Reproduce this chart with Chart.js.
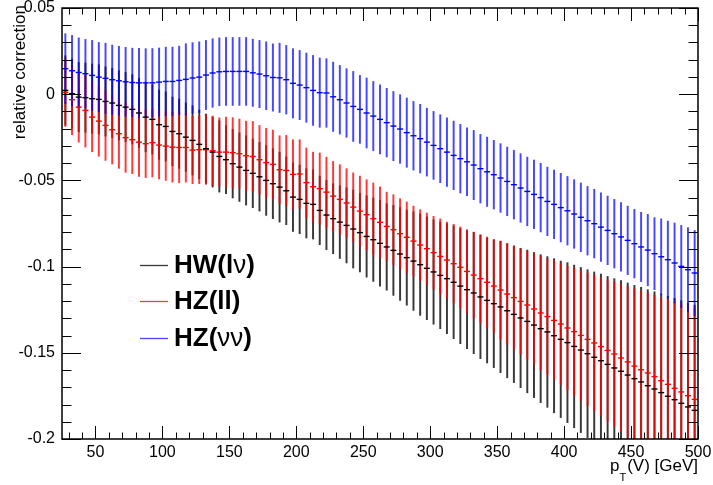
<!DOCTYPE html>
<html>
<head>
<meta charset="utf-8">
<script src="https://cdn.jsdelivr.net/npm/chart.js@4.4.1/dist/chart.umd.min.js"></script>
<style>body{margin:0;background:#fff}</style>
</head>
<body>
<canvas id="c" width="713" height="485"></canvas>
<script>
// pT(V) bin centres [GeV]
var ptBins = [27.5, 32.5, 37.5, 42.5, 47.5, 52.5, 57.5, 62.5, 67.5, 72.5, 77.5, 82.5, 87.5, 92.5, 97.5, 102.5,
  107.5, 112.5, 117.5, 122.5, 127.5, 132.5, 137.5, 142.5, 147.5, 152.5, 157.5, 162.5, 167.5, 172.5, 177.5, 182.5,
  187.5, 192.5, 197.5, 202.5, 207.5, 212.5, 217.5, 222.5, 227.5, 232.5, 237.5, 242.5, 247.5, 252.5, 257.5, 262.5,
  267.5, 272.5, 277.5, 282.5, 287.5, 292.5, 297.5, 302.5, 307.5, 312.5, 317.5, 322.5, 327.5, 332.5, 337.5, 342.5,
  347.5, 352.5, 357.5, 362.5, 367.5, 372.5, 377.5, 382.5, 387.5, 392.5, 397.5, 402.5, 407.5, 412.5, 417.5, 422.5,
  427.5, 432.5, 437.5, 442.5, 447.5, 452.5, 457.5, 462.5, 467.5, 472.5, 477.5, 482.5, 487.5, 492.5, 497.5];

// HW(lnu)
var hwVal = [0.0022, 0.0003, -0.0017, -0.0020, -0.0026, -0.0030, -0.0042, -0.0051, -0.0065, -0.0075, -0.0088, -0.0109, -0.0133, -0.0146, -0.0177, -0.0187,
  -0.0216, -0.0229, -0.0249, -0.0268, -0.0291, -0.0316, -0.0336, -0.0361, -0.0380, -0.0403, -0.0423, -0.0442, -0.0459, -0.0479, -0.0500, -0.0519,
  -0.0539, -0.0560, -0.0597, -0.0610, -0.0633, -0.0639, -0.0674, -0.0701, -0.0722, -0.0742, -0.0761, -0.0782, -0.0803, -0.0825, -0.0844, -0.0865,
  -0.0886, -0.0906, -0.0927, -0.0948, -0.0968, -0.0989, -0.1010, -0.1031, -0.1051, -0.1070, -0.1091, -0.1113, -0.1134, -0.1153, -0.1176, -0.1196,
  -0.1215, -0.1234, -0.1256, -0.1277, -0.1298, -0.1318, -0.1339, -0.1360, -0.1379, -0.1401, -0.1422, -0.1441, -0.1463, -0.1484, -0.1505, -0.1526,
  -0.1546, -0.1567, -0.1588, -0.1607, -0.1629, -0.1650, -0.1669, -0.1691, -0.1710, -0.1731, -0.1752, -0.1772, -0.1793, -0.1814, -0.1834];
var hwErr = [0.0201, 0.0201, 0.0201, 0.0201, 0.0201, 0.0201, 0.0201, 0.0201, 0.0201, 0.0201, 0.0201, 0.0201, 0.0201, 0.0201, 0.0201, 0.0201,
  0.0199, 0.0201, 0.0199, 0.0201, 0.0199, 0.0201, 0.0203, 0.0207, 0.0197, 0.0199, 0.0199, 0.0201, 0.0199, 0.0199, 0.0203, 0.0203,
  0.0203, 0.0197, 0.0199, 0.0199, 0.0201, 0.0201, 0.0199, 0.0201, 0.0203, 0.0211, 0.0218, 0.0226, 0.0228, 0.0236, 0.0242, 0.0249,
  0.0251, 0.0261, 0.0269, 0.0276, 0.0286, 0.0294, 0.0298, 0.0303, 0.0309, 0.0319, 0.0327, 0.0334, 0.0342, 0.0352, 0.0358, 0.0363,
  0.0371, 0.0381, 0.0389, 0.0396, 0.0404, 0.0414, 0.0421, 0.0429, 0.0437, 0.0447, 0.0454, 0.0464, 0.0472, 0.0479, 0.0487, 0.0495,
  0.0503, 0.0510, 0.0518, 0.0526, 0.0534, 0.0541, 0.0549, 0.0557, 0.0564, 0.0572, 0.0580, 0.0588, 0.0595, 0.0603, 0.0611];

// HZ(ll)
var hzllVal = [0.0010, -0.0032, -0.0075, -0.0094, -0.0133, -0.0156, -0.0181, -0.0206, -0.0229, -0.0252, -0.0264, -0.0278, -0.0287, -0.0281, -0.0295, -0.0301,
  -0.0307, -0.0309, -0.0309, -0.0324, -0.0322, -0.0322, -0.0328, -0.0336, -0.0336, -0.0339, -0.0345, -0.0357, -0.0361, -0.0380, -0.0397, -0.0407,
  -0.0438, -0.0442, -0.0465, -0.0463, -0.0513, -0.0537, -0.0548, -0.0568, -0.0591, -0.0610, -0.0631, -0.0655, -0.0678, -0.0699, -0.0722, -0.0743,
  -0.0767, -0.0786, -0.0809, -0.0830, -0.0852, -0.0875, -0.0896, -0.0919, -0.0941, -0.0962, -0.0983, -0.1004, -0.1028, -0.1049, -0.1070, -0.1091,
  -0.1113, -0.1136, -0.1159, -0.1180, -0.1202, -0.1223, -0.1246, -0.1269, -0.1290, -0.1312, -0.1333, -0.1356, -0.1377, -0.1399, -0.1422, -0.1443,
  -0.1464, -0.1486, -0.1507, -0.1530, -0.1553, -0.1577, -0.1598, -0.1617, -0.1638, -0.1662, -0.1683, -0.1706, -0.1727, -0.1749, -0.1770];
var hzllErr = [0.0197, 0.0203, 0.0203, 0.0213, 0.0201, 0.0203, 0.0203, 0.0199, 0.0201, 0.0201, 0.0197, 0.0199, 0.0197, 0.0199, 0.0197, 0.0199,
  0.0203, 0.0205, 0.0201, 0.0195, 0.0197, 0.0201, 0.0201, 0.0199, 0.0203, 0.0203, 0.0201, 0.0201, 0.0203, 0.0199, 0.0199, 0.0199,
  0.0197, 0.0203, 0.0201, 0.0199, 0.0201, 0.0201, 0.0207, 0.0203, 0.0201, 0.0201, 0.0199, 0.0199, 0.0203, 0.0203, 0.0207, 0.0205,
  0.0199, 0.0203, 0.0203, 0.0205, 0.0203, 0.0205, 0.0207, 0.0211, 0.0218, 0.0220, 0.0228, 0.0234, 0.0242, 0.0249, 0.0255, 0.0263,
  0.0269, 0.0284, 0.0292, 0.0300, 0.0305, 0.0313, 0.0321, 0.0329, 0.0336, 0.0344, 0.0350, 0.0360, 0.0369, 0.0377, 0.0385, 0.0392,
  0.0400, 0.0410, 0.0418, 0.0427, 0.0437, 0.0447, 0.0456, 0.0464, 0.0472, 0.0481, 0.0491, 0.0501, 0.0510, 0.0520, 0.0530];

// HZ(nunu)
var hzvvVal = [0.0148, 0.0136, 0.0126, 0.0119, 0.0109, 0.0099, 0.0092, 0.0084, 0.0078, 0.0072, 0.0068, 0.0066, 0.0066, 0.0066, 0.0070, 0.0074,
  0.0074, 0.0080, 0.0086, 0.0094, 0.0099, 0.0111, 0.0123, 0.0130, 0.0132, 0.0132, 0.0132, 0.0132, 0.0124, 0.0117, 0.0107, 0.0097,
  0.0095, 0.0084, 0.0063, 0.0053, 0.0038, 0.0022, 0.0009, 0.0007, -0.0015, -0.0032, -0.0051, -0.0071, -0.0088, -0.0109, -0.0127, -0.0146,
  -0.0165, -0.0185, -0.0202, -0.0223, -0.0241, -0.0258, -0.0278, -0.0297, -0.0316, -0.0336, -0.0355, -0.0374, -0.0392, -0.0411, -0.0432, -0.0450,
  -0.0467, -0.0486, -0.0506, -0.0525, -0.0544, -0.0564, -0.0581, -0.0600, -0.0622, -0.0639, -0.0658, -0.0676, -0.0695, -0.0714, -0.0734, -0.0751,
  -0.0771, -0.0790, -0.0809, -0.0828, -0.0848, -0.0867, -0.0886, -0.0904, -0.0925, -0.0943, -0.0960, -0.0979, -0.0999, -0.1018, -0.1037];
var hzvvErr = [0.0203, 0.0205, 0.0201, 0.0199, 0.0203, 0.0201, 0.0204, 0.0201, 0.0200, 0.0200, 0.0199, 0.0200, 0.0198, 0.0199, 0.0198, 0.0199,
  0.0199, 0.0199, 0.0207, 0.0205, 0.0205, 0.0201, 0.0199, 0.0197, 0.0197, 0.0197, 0.0197, 0.0197, 0.0195, 0.0195, 0.0197, 0.0195,
  0.0201, 0.0199, 0.0201, 0.0201, 0.0201, 0.0203, 0.0201, 0.0199, 0.0201, 0.0199, 0.0199, 0.0203, 0.0197, 0.0203, 0.0201, 0.0201,
  0.0199, 0.0201, 0.0199, 0.0201, 0.0199, 0.0199, 0.0197, 0.0197, 0.0197, 0.0199, 0.0199, 0.0199, 0.0197, 0.0201, 0.0199, 0.0201,
  0.0199, 0.0199, 0.0199, 0.0199, 0.0199, 0.0199, 0.0199, 0.0199, 0.0199, 0.0199, 0.0199, 0.0199, 0.0199, 0.0199, 0.0199, 0.0199,
  0.0199, 0.0199, 0.0199, 0.0199, 0.0199, 0.0199, 0.0201, 0.0207, 0.0209, 0.0220, 0.0224, 0.0232, 0.0238, 0.0244, 0.0247];

var xTicks = [50, 100, 150, 200, 250, 300, 350, 400, 450, 500];
var yTicks = [-0.2, -0.15, -0.1, -0.05, 0, 0.05];
var yTickLabels = ['-0.2', '-0.15', '-0.1', '-0.05', '0', '0.05'];

var cBlack = 'rgba(0,0,0,0.78)', cRed = 'rgba(255,0,0,0.78)', cBlue = 'rgba(0,0,255,0.72)';
var font = 'Liberation Sans';

function errBars(val, err) {
  return ptBins.map(function(x, i) { return {x: x, y: [val[i] - err[i], val[i] + err[i]]}; });
}
function centres(val) {
  return ptBins.map(function(x, i) { return {x: x, y: val[i]}; });
}
function barSet(val, err, col, ord) {
  return {type: 'bar', data: errBars(val, err), backgroundColor: col, borderWidth: 0,
    barThickness: 1.3, grouped: false, order: ord};
}
function markSet(val, col) {
  return {type: 'line', data: centres(val), showLine: false, pointStyle: 'line', pointRadius: 3,
    pointBorderWidth: 1.4, pointBorderColor: col, borderColor: col, order: 0};
}

// ROOT-like frame, inward ticks, titles and legend
var rootDecor = {
  id: 'rootDecor',
  afterDraw: function(chart) {
    var ctx = chart.ctx, a = chart.chartArea;
    var sx = chart.scales.x, sy = chart.scales.y;
    ctx.save();
    ctx.strokeStyle = '#000';
    ctx.lineWidth = 1;
    ctx.beginPath();
    for (var v = 30; v <= 500; v += 10) {
      var px = Math.round(sx.getPixelForValue(v)) + 0.5;
      var len = v % 50 === 0 ? 13 : 6.5;
      ctx.moveTo(px, a.bottom); ctx.lineTo(px, a.bottom - len);
      ctx.moveTo(px, a.top); ctx.lineTo(px, a.top + len);
    }
    for (var k = 0; k <= 25; k++) {
      var py = Math.round(sy.getPixelForValue(-0.2 + k * 0.01)) + 0.5;
      var ln = k % 5 === 0 ? 19 : 9.5;
      ctx.moveTo(a.left, py); ctx.lineTo(a.left + ln, py);
      ctx.moveTo(a.right, py); ctx.lineTo(a.right - ln, py);
    }
    ctx.stroke();
    ctx.lineWidth = 1.5;
    ctx.strokeRect(a.left, a.top, a.right - a.left, a.bottom - a.top);

    ctx.fillStyle = '#000';
    // y title
    ctx.save();
    ctx.translate(25, 5);
    ctx.rotate(-Math.PI / 2);
    ctx.font = '17px "' + font + '"';
    ctx.textAlign = 'right';
    ctx.textBaseline = 'alphabetic';
    ctx.fillText('relative correction', 0, 0);
    ctx.restore();

    // x title
    ctx.font = '17px "' + font + '"';
    ctx.textAlign = 'right';
    ctx.textBaseline = 'alphabetic';
    var rest = '(V) [GeV]';
    ctx.fillText(rest, 698, 471);
    var xr = 698 - ctx.measureText(rest).width;
    ctx.font = '11px "' + font + '"';
    ctx.fillText('T', xr - 1, 481);
    var xt = xr - 1 - ctx.measureText('T').width;
    ctx.font = '17px "' + font + '"';
    ctx.fillText('p', xt, 471);

    // legend
    var items = [
      {col: cBlack, y: 265, parts: [['HW(l', true], ['\u03bd', false], [')', true]]},
      {col: cRed, y: 301, parts: [['HZ(ll)', true]]},
      {col: cBlue, y: 338, parts: [['HZ(', true], ['\u03bd\u03bd', false], [')', true]]}
    ];
    ctx.textAlign = 'left';
    ctx.textBaseline = 'middle';
    items.forEach(function(it) {
      ctx.strokeStyle = it.col;
      ctx.lineWidth = 1.3;
      ctx.beginPath();
      ctx.moveTo(140, it.y + 0.5); ctx.lineTo(168, it.y + 0.5);
      ctx.stroke();
      var x = 174;
      it.parts.forEach(function(p) {
        ctx.font = (p[1] ? 'bold ' : '') + '26px "' + font + '"';
        ctx.fillStyle = '#000';
        ctx.fillText(p[0], x, it.y + 1);
        x += ctx.measureText(p[0]).width;
      });
    });
    ctx.restore();
  }
};

new Chart(document.getElementById('c'), {
  type: 'bar',
  data: {
    datasets: [
      markSet(hwVal, '#000'),
      markSet(hzllVal, '#f00'),
      markSet(hzvvVal, '#00f'),
      barSet(hzvvVal, hzvvErr, cBlue, 1),
      barSet(hzllVal, hzllErr, cRed, 2),
      barSet(hwVal, hwErr, cBlack, 3)
    ]
  },
  options: {
    responsive: false,
    animation: false,
    devicePixelRatio: 1,
    layout: {padding: {top: 8, right: 15, left: 0, bottom: 0}},
    plugins: {legend: {display: false}, tooltip: {enabled: false}},
    scales: {
      x: {
        type: 'linear', min: 25, max: 500, offset: false,
        grid: {display: false, drawTicks: false},
        border: {display: false},
        ticks: {font: {family: font, size: 16}, color: '#000', padding: 4, maxRotation: 0, autoSkip: false,
          callback: function(v) { return String(v); }},
        afterBuildTicks: function(s) { s.ticks = xTicks.map(function(v) { return {value: v}; }); },
        afterFit: function(s) { s.height = 46; s.paddingLeft = 0; s.paddingRight = 0; }
      },
      y: {
        min: -0.2, max: 0.05,
        grid: {display: false, drawTicks: false},
        border: {display: false},
        ticks: {font: {family: font, size: 16}, color: '#000', padding: 7, autoSkip: false,
          callback: function(v, i) { return yTickLabels[i]; }},
        afterBuildTicks: function(s) { s.ticks = yTicks.map(function(v) { return {value: v}; }); },
        afterFit: function(s) { s.width = 62; s.paddingTop = 0; s.paddingBottom = 0; }
      }
    }
  },
  plugins: [rootDecor]
});
</script>
</body>
</html>
